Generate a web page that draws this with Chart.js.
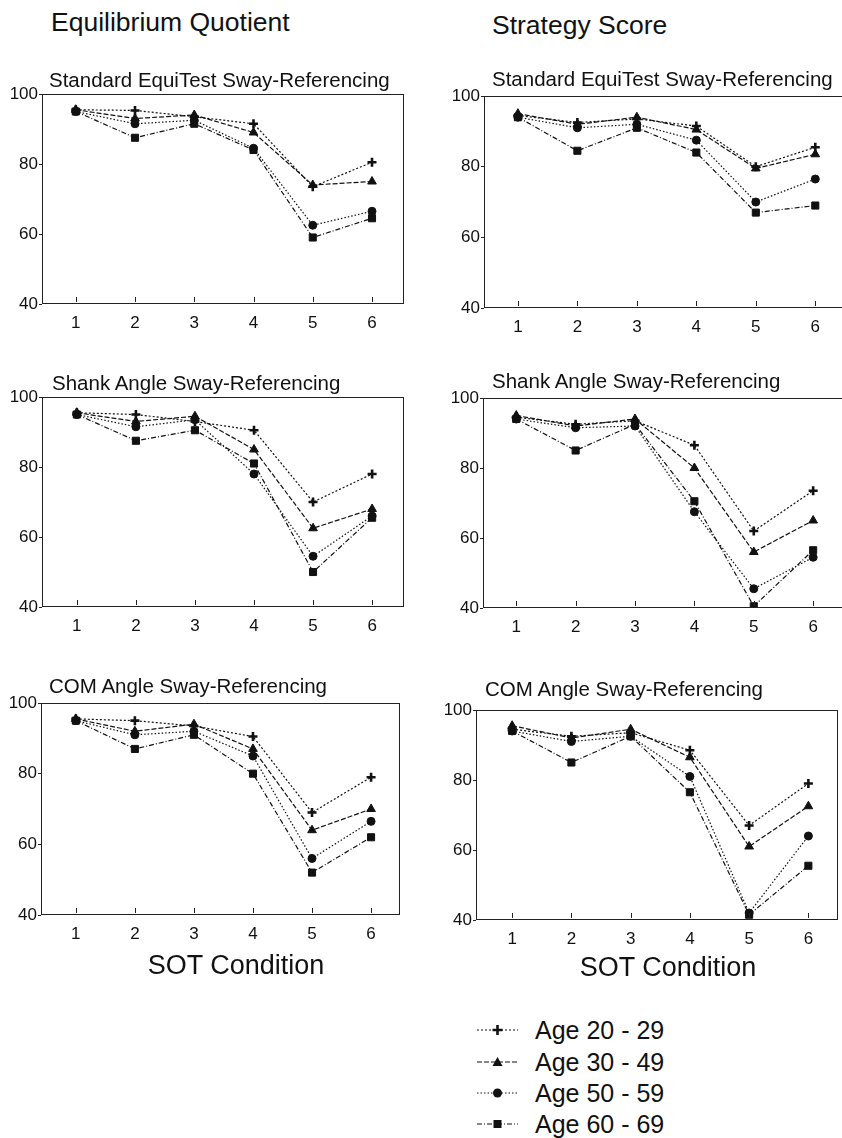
<!DOCTYPE html>
<html><head><meta charset="utf-8">
<script src="https://cdn.jsdelivr.net/npm/chart.js@4.4.0/dist/chart.umd.min.js"></script>
<style>
html,body{margin:0;padding:0;background:#fff;}
body{width:842px;height:1138px;overflow:hidden;position:relative;font-family:"Liberation Sans",Arial,Helvetica,sans-serif;color:#111;}
.t{position:absolute;white-space:nowrap;line-height:1;}
canvas{position:absolute;}
svg{position:absolute;overflow:visible;}
</style></head><body>
<script>
// ---------- data ----------
const categories = [1, 2, 3, 4, 5, 6];
const yTicks = [40, 60, 80, 100];
const seriesLabels = ['Age 20 - 29', 'Age 30 - 49', 'Age 50 - 59', 'Age 60 - 69'];
const columnHeaders = ['Equilibrium Quotient', 'Strategy Score'];
const panelTitles = ['Standard EquiTest Sway-Referencing', 'Shank Angle Sway-Referencing', 'COM Angle Sway-Referencing'];
const xAxisTitle = 'SOT Condition';

// Equilibrium Quotient - Standard EquiTest
const eqStd20 = [95.5, 95.3, 93.5, 91.5, 73.5, 80.5];
const eqStd30 = [95.5, 93.0, 94.0, 89.0, 74.0, 75.0];
const eqStd50 = [95.0, 91.5, 92.5, 84.5, 62.5, 66.5];
const eqStd60 = [95.0, 87.5, 91.5, 84.0, 59.0, 64.5];
// Strategy Score - Standard EquiTest
const ssStd20 = [94.5, 92.5, 93.5, 91.5, 80.0, 85.5];
const ssStd30 = [95.0, 92.0, 94.0, 90.5, 79.5, 83.5];
const ssStd50 = [94.0, 91.0, 92.0, 87.5, 70.0, 76.5];
const ssStd60 = [94.0, 84.5, 91.0, 84.0, 67.0, 69.0];
// Equilibrium Quotient - Shank Angle
const eqShk20 = [95.5, 95.0, 93.0, 90.5, 70.0, 78.0];
const eqShk30 = [95.5, 93.0, 94.5, 85.0, 62.5, 68.0];
const eqShk50 = [95.0, 91.5, 93.5, 78.0, 54.5, 66.0];
const eqShk60 = [95.0, 87.5, 90.5, 81.0, 50.0, 65.5];
// Strategy Score - Shank Angle
const ssShk20 = [94.5, 92.5, 93.5, 86.5, 62.0, 73.5];
const ssShk30 = [95.0, 92.0, 94.0, 80.0, 56.0, 65.0];
const ssShk50 = [94.0, 91.5, 92.0, 67.5, 45.5, 54.5];
const ssShk60 = [94.0, 85.0, 92.5, 70.5, 40.5, 56.5];
// Equilibrium Quotient - COM Angle
const eqCom20 = [95.5, 95.0, 93.5, 90.5, 69.0, 79.0];
const eqCom30 = [95.5, 92.0, 94.0, 87.0, 64.0, 70.0];
const eqCom50 = [95.0, 91.0, 92.0, 85.0, 56.0, 66.5];
const eqCom60 = [95.0, 87.0, 91.0, 80.0, 52.0, 62.0];
// Strategy Score - COM Angle
const ssCom20 = [94.5, 92.5, 93.5, 88.5, 67.0, 79.0];
const ssCom30 = [95.5, 92.0, 94.5, 86.5, 61.0, 72.5];
const ssCom50 = [94.0, 91.0, 92.5, 81.0, 42.0, 64.0];
const ssCom60 = [94.0, 85.0, 92.5, 76.5, 41.5, 55.5];

// ---------- layout / style ----------
const FONT = '"Liberation Sans", Arial, Helvetica, sans-serif';
const seriesStyles = [
  { pointStyle: 'cross',    radius: 4.5, pbw: 2.6, dash: [2, 2] },
  { pointStyle: 'triangle', radius: 5,   pbw: 1,   dash: [5, 2] },
  { pointStyle: 'circle',   radius: 4,   pbw: 1,   dash: [1.5, 2] },
  { pointStyle: 'rect',     radius: 5,   pbw: 1,   dash: [5, 2, 1, 2] }
];
const panels = [
  { series: [eqStd20, eqStd30, eqStd50, eqStd60], title: panelTitles[0], L: 42,  T: 94,  W: 362, H: 210, xmin: 0.43, xmax: 6.54, tx: 49,  tb: 87 },
  { series: [ssStd20, ssStd30, ssStd50, ssStd60], title: panelTitles[0], L: 484, T: 96,  W: 364, H: 212, xmin: 0.43, xmax: 6.55, tx: 492, tb: 86 },
  { series: [eqShk20, eqShk30, eqShk50, eqShk60], title: panelTitles[1], L: 42,  T: 397, W: 362, H: 210, xmin: 0.41, xmax: 6.54, tx: 52,  tb: 390 },
  { series: [ssShk20, ssShk30, ssShk50, ssShk60], title: panelTitles[1], L: 483, T: 398, W: 364, H: 210, xmin: 0.44, xmax: 6.57, tx: 492, tb: 388 },
  { series: [eqCom20, eqCom30, eqCom50, eqCom60], title: panelTitles[2], L: 41,  T: 703, W: 359, H: 212, xmin: 0.41, xmax: 6.49, tx: 49,  tb: 693 },
  { series: [ssCom20, ssCom30, ssCom50, ssCom60], title: panelTitles[2], L: 476, T: 710, W: 362, H: 210, xmin: 0.39, xmax: 6.50, tx: 485, tb: 696 }
];

function addText(str, left, baseline, size, extra) {
  const d = document.createElement('div');
  d.className = 't';
  d.textContent = str;
  d.style.fontSize = size + 'px';
  d.style.left = left + 'px';
  d.style.top = (baseline - 0.8465 * size) + 'px';
  if (extra) Object.assign(d.style, extra);
  document.body.appendChild(d);
  return d;
}

// headers
addText(columnHeaders[0], 51, 31, 26.5);
addText(columnHeaders[1], 492, 34, 26.5);

// frame + inner tick plugin
const framePlugin = {
  id: 'frame',
  afterDraw(chart) {
    const { ctx, chartArea: a, scales: { x } } = chart;
    ctx.save();
    ctx.strokeStyle = '#222';
    ctx.lineWidth = 1;
    ctx.strokeRect(Math.round(a.left) + 0.5, Math.round(a.top) + 0.5, Math.round(a.right - a.left) - 1, Math.round(a.bottom - a.top) - 1);
    x.ticks.forEach(t => {
      const px = Math.round(x.getPixelForValue(t.value)) + 0.5;
      ctx.beginPath();
      ctx.moveTo(px, a.bottom - 2);
      ctx.lineTo(px, a.bottom - 7);
      ctx.stroke();
    });
    ctx.restore();
  }
};

Chart.defaults.font.family = FONT;
Chart.defaults.color = '#111';

const PADL = 45, PADT = 12, PADR = 10, PADB = 34;
panels.forEach(p => {
  const c = document.createElement('canvas');
  const cw = PADL + p.W + PADR, ch = PADT + p.H + PADB;
  c.width = cw; c.height = ch;
  c.style.width = cw + 'px'; c.style.height = ch + 'px';
  c.style.left = (p.L - PADL) + 'px';
  c.style.top = (p.T - PADT) + 'px';
  document.body.appendChild(c);

  addText(p.title, p.tx, p.tb, 20.5);

  new Chart(c, {
    type: 'line',
    data: {
      datasets: p.series.map((vals, i) => ({
        label: seriesLabels[i],
        data: categories.map((cx, j) => ({ x: cx, y: vals[j] })),
        borderColor: '#111',
        backgroundColor: '#111',
        borderWidth: 1.2,
        borderDash: seriesStyles[i].dash,
        pointStyle: seriesStyles[i].pointStyle,
        pointRadius: seriesStyles[i].radius,
        pointBorderWidth: seriesStyles[i].pbw,
        pointBackgroundColor: '#111',
        pointBorderColor: '#111',
        tension: 0,
        fill: false
      }))
    },
    options: {
      responsive: false,
      animation: false,
      layout: { padding: { left: 0, top: PADT, right: PADR, bottom: 0 } },
      plugins: { legend: { display: false }, tooltip: { enabled: false } },
      scales: {
        x: {
          type: 'linear',
          min: p.xmin, max: p.xmax,
          afterBuildTicks: s => { s.ticks = categories.map(v => ({ value: v })); },
          afterFit: s => { s.height = PADB; },
          grid: { display: false, drawTicks: false },
          border: { display: false },
          ticks: { font: { size: 17 }, padding: 9, maxRotation: 0, autoSkip: false, color: '#111' }
        },
        y: {
          min: 40, max: 100,
          afterBuildTicks: s => { s.ticks = yTicks.map(v => ({ value: v })); },
          afterFit: s => { s.width = PADL; },
          grid: { drawOnChartArea: false, drawTicks: true, tickLength: 3, color: '#222' },
          border: { display: false },
          ticks: { font: { size: 17 }, padding: 1, color: '#111' }
        }
      }
    },
    plugins: [framePlugin]
  });
});

// x axis titles
addText(xAxisTitle, 0, 975, 27, { width: '472px', textAlign: 'center' });
addText(xAxisTitle, 0, 977, 27, { width: '1336px', textAlign: 'center' });

// legend
const NS = 'http://www.w3.org/2000/svg';
const legendBaselines = [1039, 1071, 1102, 1133];
seriesLabels.forEach((lab, i) => {
  const b = legendBaselines[i];
  const cy = b - 9;
  addText(lab, 535, b, 25);
  const svg = document.createElementNS(NS, 'svg');
  svg.setAttribute('width', '50'); svg.setAttribute('height', '16');
  svg.style.left = '475px'; svg.style.top = (cy - 8) + 'px';
  const ln = document.createElementNS(NS, 'line');
  ln.setAttribute('x1', '2'); ln.setAttribute('x2', '43'); ln.setAttribute('y1', '8'); ln.setAttribute('y2', '8');
  ln.setAttribute('stroke', '#111'); ln.setAttribute('stroke-width', '1.2');
  ln.setAttribute('stroke-dasharray', seriesStyles[i].dash.join(' '));
  svg.appendChild(ln);
  const st = seriesStyles[i].pointStyle;
  let m;
  if (st === 'cross') {
    m = document.createElementNS(NS, 'path');
    m.setAttribute('d', 'M17.5 8 H27.5 M22.5 3 V13');
    m.setAttribute('stroke', '#111'); m.setAttribute('stroke-width', '2.6');
  } else if (st === 'triangle') {
    m = document.createElementNS(NS, 'polygon');
    m.setAttribute('points', '22.5,3 27.5,12 17.5,12');
    m.setAttribute('fill', '#111');
  } else if (st === 'circle') {
    m = document.createElementNS(NS, 'circle');
    m.setAttribute('cx', '22.5'); m.setAttribute('cy', '8'); m.setAttribute('r', '4.5');
    m.setAttribute('fill', '#111');
  } else {
    m = document.createElementNS(NS, 'rect');
    m.setAttribute('x', '18.5'); m.setAttribute('y', '4'); m.setAttribute('width', '8'); m.setAttribute('height', '8');
    m.setAttribute('fill', '#111');
  }
  svg.appendChild(m);
  document.body.appendChild(svg);
});
</script>
</body></html>
